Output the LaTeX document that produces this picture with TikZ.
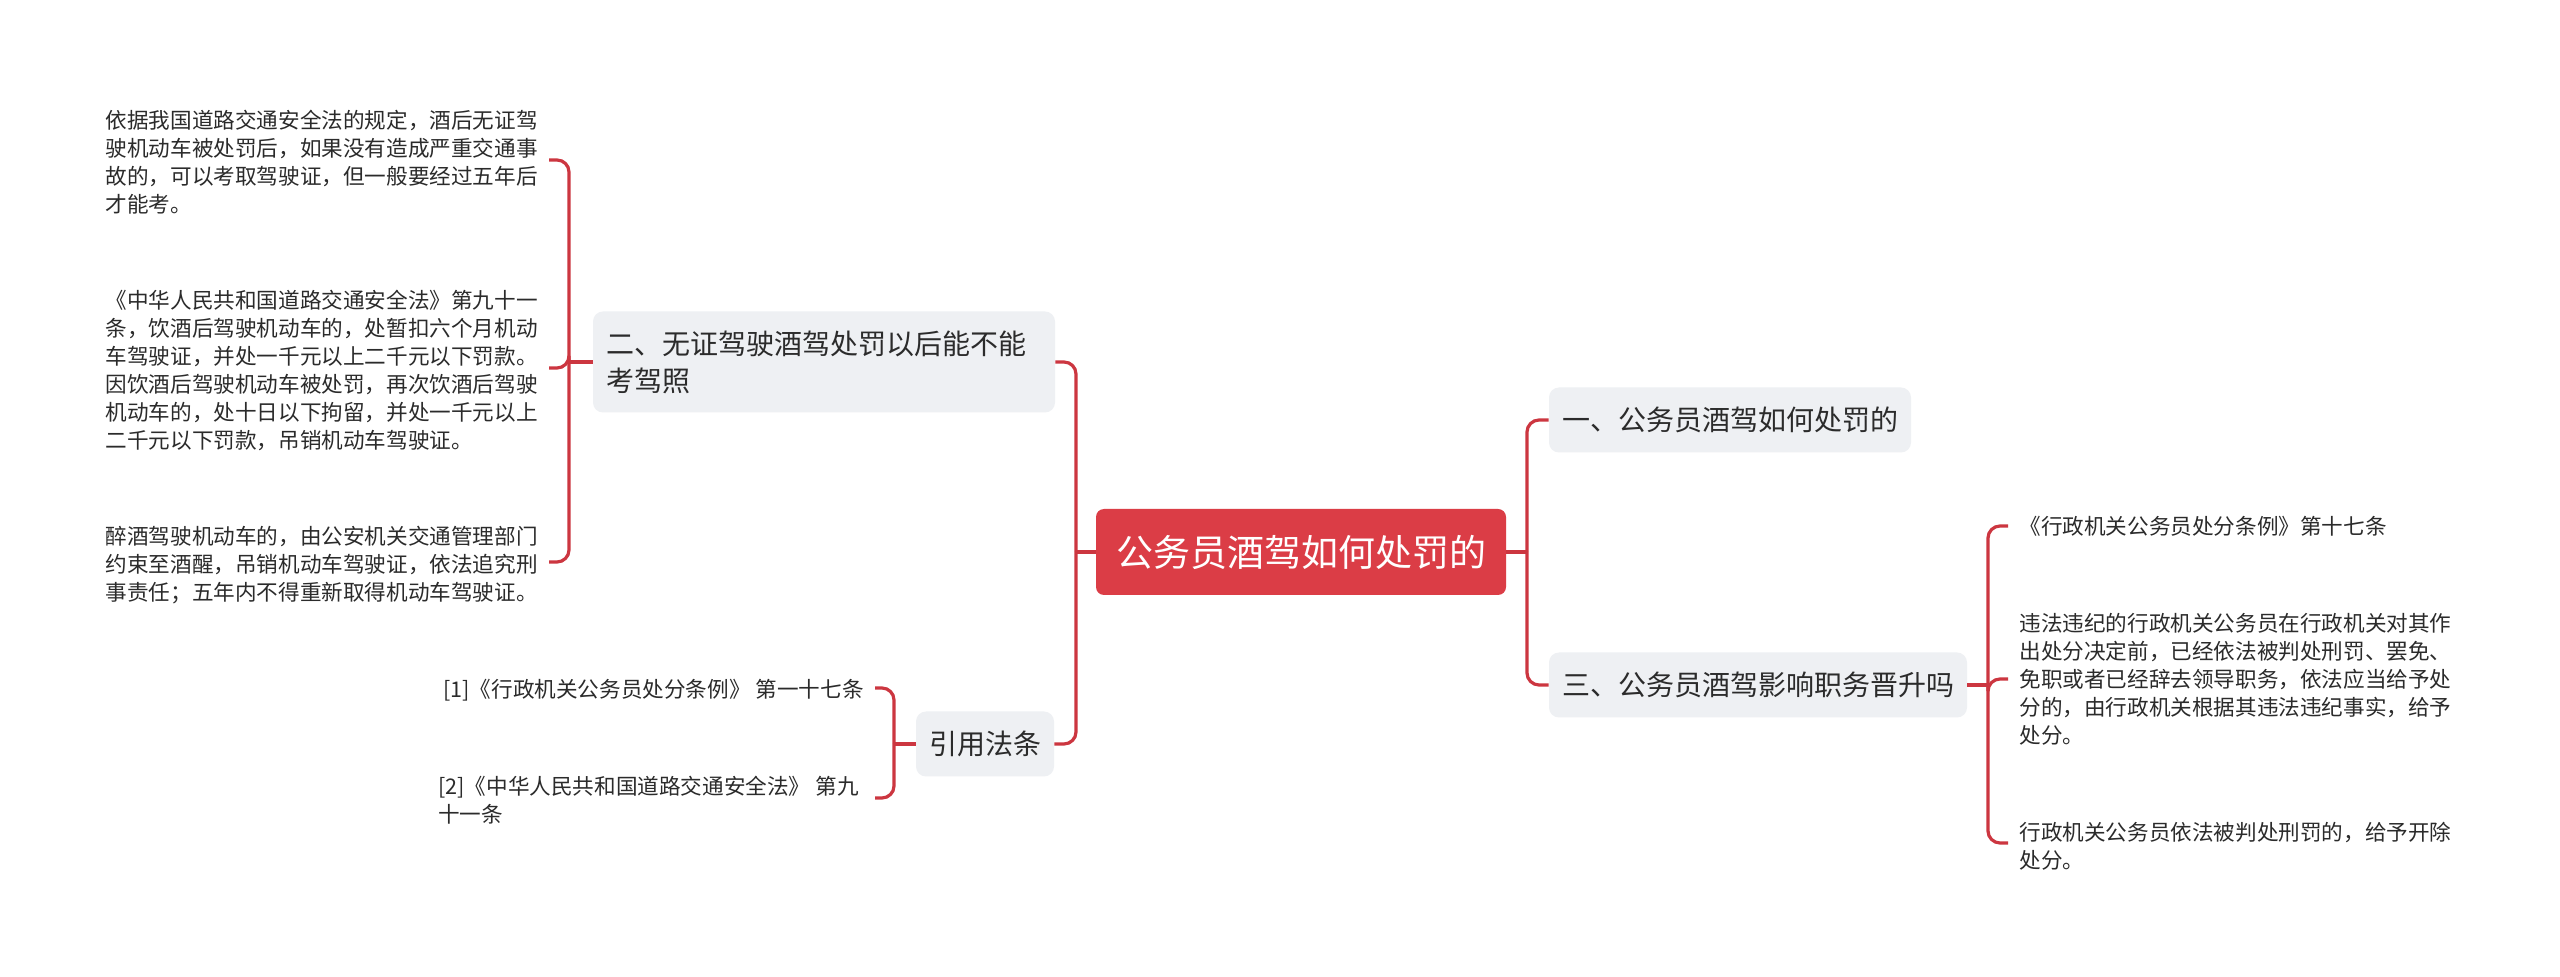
\documentclass[tikz,border=0pt]{standalone}
\usepackage{fontspec}
\newfontfamily\cjk{Noto Sans CJK SC}
\definecolor{rootred}{HTML}{DB3D46}
\definecolor{linkred}{HTML}{CC3640}
\definecolor{topicgray}{HTML}{EEF0F3}
\definecolor{inkgray}{HTML}{2B2B2B}

\begin{document}
\begin{tikzpicture}[
  x=0.5pt, y=-0.5pt,
  font=\cjk,
  root/.style={fill=rootred, text=white, rounded corners=4pt, minimum width=205pt, minimum height=43pt, font=\cjk\fontsize{18.5}{22}\selectfont},
  topic/.style={fill=topicgray, text=inkgray, rounded corners=5pt, inner xsep=6.5pt, minimum height=32.5pt, font=\cjk\fontsize{14}{18.5}\selectfont},
  leaf/.style={text=inkgray, align=left, inner xsep=5.5pt, inner ysep=2pt, font=\cjk\fontsize{10.8}{14}\selectfont},
  link/.style={draw=linkred, line width=1.6pt, rounded corners=6pt}
]
\fill[white] (0,0) rectangle (2560,977);

% centre and main topics
\node[root] (root) at (1301,552) {公务员酒驾如何处罚的};
\node[topic, text width=218pt, align=left, minimum height=50.5pt] (t2) at (824,362)
  {二、无证驾驶酒驾处罚以后能不能\\考驾照};
\node[topic] (cite) at (985,744) {引用法条};
\node[topic] (t1) at (1730,420) {一、公务员酒驾如何处罚的};
\node[topic] (t3) at (1758,685) {三、公务员酒驾影响职务晋升吗};

% leaves of topic two
\node[leaf, anchor=east] (l1) at (549,162)
  {依据我国道路交通安全法的规定，酒后无证驾\\驶机动车被处罚后，如果没有造成严重交通事\\故的，可以考取驾驶证，但一般要经过五年后\\才能考。};
\node[leaf, anchor=east] (l2) at (549,370)
  {《中华人民共和国道路交通安全法》第九十一\\条，饮酒后驾驶机动车的，处暂扣六个月机动\\车驾驶证，并处一千元以上二千元以下罚款。\\因饮酒后驾驶机动车被处罚，再次饮酒后驾驶\\机动车的，处十日以下拘留，并处一千元以上\\二千元以下罚款，吊销机动车驾驶证。};
\node[leaf, anchor=east] (l3) at (549,565)
  {醉酒驾驶机动车的，由公安机关交通管理部门\\约束至酒醒，吊销机动车驾驶证，依法追究刑\\事责任；五年内不得重新取得机动车驾驶证。};

% cited laws
\node[leaf, anchor=east] (c1) at (875,690) {[1]《行政机关公务员处分条例》 第一十七条};
\node[leaf, anchor=east] (c2) at (870,800) {[2]《中华人民共和国道路交通安全法》 第九\\十一条};

% leaves of topic three
\node[leaf, anchor=west] (r1) at (2008,526) {《行政机关公务员处分条例》第十七条};
\node[leaf, anchor=west] (r2) at (2008,679)
  {违法违纪的行政机关公务员在行政机关对其作\\出处分决定前，已经依法被判处刑罚、罢免、\\免职或者已经辞去领导职务，依法应当给予处\\分的，由行政机关根据其违法违纪事实，给予\\处分。};
\node[leaf, anchor=west] (r3) at (2008,846) {行政机关公务员依法被判处刑罚的，给予开除\\处分。};

% connectors
\coordinate (rootL) at (1076,552);
\coordinate (rootR) at (1527,552);
\coordinate (t2L) at (569,362);
\coordinate (citeL) at (894,744);
\coordinate (t3R) at (1988,685);

\draw[link] (root.west) -- (rootL);
\draw[link] (rootL) |- (t2.east);
\draw[link] (rootL) |- (cite.east);
\draw[link] (root.east) -- (rootR);
\draw[link] (rootR) |- (t1.west);
\draw[link] (rootR) |- (t3.west);

\draw[link] (t2.west) -- (t2L);
\draw[link] (t2L) |- ([yshift=1pt]l1.east);
\draw[link] (t2L) |- ([yshift=1pt]l2.east);
\draw[link] (t2L) |- ([yshift=1.5pt]l3.east);

\draw[link] (cite.west) -- (citeL);
\draw[link] (citeL) |- ([yshift=1pt]c1.east);
\draw[link] (citeL) |- ([xshift=2.5pt,yshift=1pt]c2.east);

\draw[link] (t3.east) -- (t3R);
\draw[link] (t3R) |- (r1.west);
\draw[link] (t3R) |- (r2.west);
\draw[link] (t3R) |- ([yshift=1.5pt]r3.west);

\end{tikzpicture}
\end{document}
